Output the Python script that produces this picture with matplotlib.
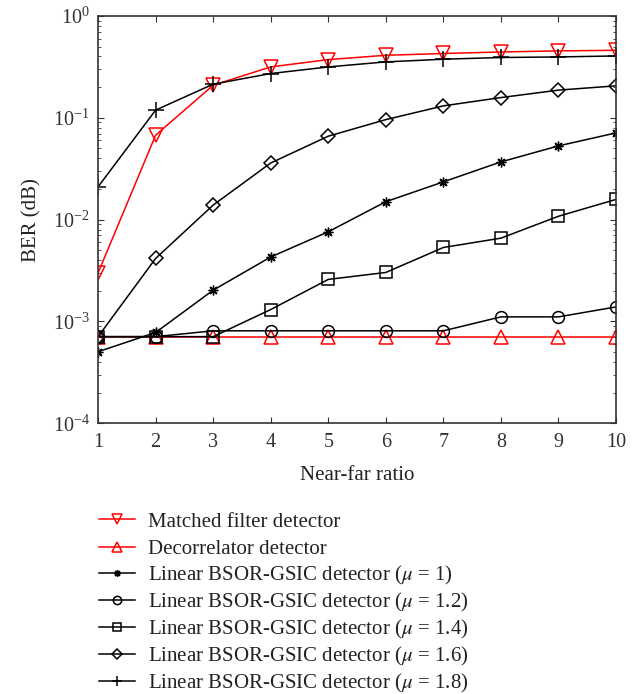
import numpy as np
import matplotlib
matplotlib.use('Agg')
import matplotlib.pyplot as plt

plt.rcParams['font.family'] = ['Liberation Serif', 'DejaVu Serif']
plt.rcParams['mathtext.fontset'] = 'stix'

# near-far ratio
x = [1, 2, 3, 4, 5, 6, 7, 8, 9, 10]

# BER values
matched = [3.0e-3, 0.0675, 0.209, 0.316, 0.373, 0.411, 0.428, 0.443, 0.454, 0.46]
decorr = [7.1e-4] * 10
mu_10 = [5.05e-4, 7.8e-4, 2.03e-3, 4.3e-3, 7.6e-3, 0.0150, 0.0235, 0.0369, 0.053, 0.0711]
mu_12 = [7.1e-4, 7.1e-4, 8.1e-4, 8.1e-4, 8.1e-4, 8.1e-4, 8.1e-4, 1.11e-3, 1.11e-3, 1.39e-3]
mu_14 = [7.1e-4, 7.1e-4, 7.1e-4, 1.31e-3, 2.59e-3, 3.03e-3, 5.33e-3, 6.58e-3, 0.0108, 0.0158]
mu_16 = [7.1e-4, 4.16e-3, 0.0139, 0.036, 0.066, 0.096, 0.131, 0.158, 0.187, 0.206]
mu_18 = [0.021, 0.119, 0.214, 0.272, 0.316, 0.354, 0.376, 0.391, 0.396, 0.405]

labels = ['Matched filter detector',
          'Decorrelator detector',
          r'Linear BSOR-GSIC detector ($\mu$ = 1)',
          r'Linear BSOR-GSIC detector ($\mu$ = 1.2)',
          r'Linear BSOR-GSIC detector ($\mu$ = 1.4)',
          r'Linear BSOR-GSIC detector ($\mu$ = 1.6)',
          r'Linear BSOR-GSIC detector ($\mu$ = 1.8)']

fig = plt.figure(figsize=(6.41, 6.94), dpi=100)
ax = fig.add_axes([0.153, 0.39, 0.808, 0.587])

mk = dict(markerfacecolor='none', linewidth=1.1, markeredgewidth=1.1)
ax.plot(x, matched, color='red', marker='v', markersize=9.5, label=labels[0], **mk)
ax.plot(x, decorr, color='red', marker='^', markersize=9.5, label=labels[1], **mk)
ax.plot(x, mu_10, color='black', marker=(8, 2, 0), markersize=7, linewidth=1.1,
        markeredgewidth=1.0, label=labels[2])
ax.plot(x, mu_12, color='black', marker='o', markersize=8.5, label=labels[3], **mk)
ax.plot(x, mu_14, color='black', marker='s', markersize=8.5, label=labels[4], **mk)
ax.plot(x, mu_16, color='black', marker='D', markersize=7.5, label=labels[5], **mk)
ax.plot(x, mu_18, color='black', marker='+', markersize=11, linewidth=1.1,
        markeredgewidth=1.1, label=labels[6])

ax.set_yscale('log')
ax.set_ylim(1e-4, 1)
ax.set_xlim(1, 10)
ax.set_xticks(x)
ax.tick_params(which='both', direction='in', top=True, right=True, labelsize=14.5,
               colors='#333333', labelcolor='#333333')
ax.tick_params(axis='x', which='major', length=4, pad=7)
ax.tick_params(axis='y', which='major', length=4, pad=6)
ax.tick_params(which='minor', length=2.5)
for s in ax.spines.values():
    s.set_color('#333333')
    s.set_linewidth(1.2)
ax.set_xlabel('Near-far ratio', fontsize=15, color='#222222', labelpad=10)
ax.set_ylabel('BER (dB)', fontsize=15, color='#222222', labelpad=8)

# legend in two blocks so the plain and the mu rows share the same pitch
h, l = ax.get_legend_handles_labels()
leg_kw = dict(loc='upper left', frameon=False, fontsize=15, handlelength=1.7,
              handletextpad=0.65, markerscale=0.7, borderaxespad=0,
              labelcolor='#222222')
fig.legend(h[:2], l[:2], bbox_to_anchor=(0.142, 0.274), labelspacing=0.36, **leg_kw)
fig.legend(h[2:], l[2:], bbox_to_anchor=(0.142, 0.199), labelspacing=0.19, **leg_kw)

fig.savefig('out.png', dpi=100)
